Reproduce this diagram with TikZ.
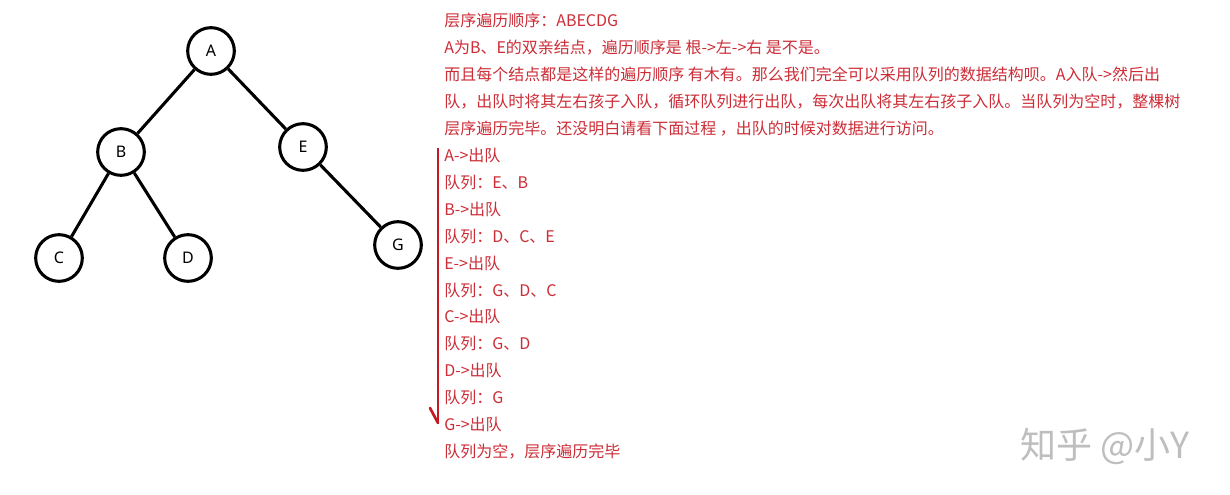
\documentclass[tikz,border=0pt]{standalone}
\usepackage{fontspec}
\setmainfont{Noto Sans}
\newfontfamily\cjk{Noto Sans CJK SC}
\definecolor{txtred}{RGB}{205,45,55}
\definecolor{linered}{RGB}{195,25,35}
\definecolor{wmgray}{RGB}{190,190,190}
\begin{document}
\begin{tikzpicture}[x=0.75pt,y=-0.75pt,
  treenode/.style={circle,draw=black,line width=2.3pt,minimum size=35pt,inner sep=0pt,font=\fontsize{12pt}{14pt}\selectfont},
  treeedge/.style={line width=2.3pt,black},
  txt/.style={anchor=base west,inner sep=0pt,text=txtred,font=\cjk\fontsize{12pt}{14pt}\selectfont},
  wm/.style={anchor=base west,inner sep=0pt,text=wmgray,font=\cjk\fontsize{27pt}{30pt}\selectfont}]
\useasboundingbox[fill=white] (0,0) rectangle (1230,495);
% tree
\node[treenode] (A) at (211,51) {A};
\node[treenode] (B) at (121,152) {B};
\node[treenode] (E) at (303,147) {E};
\node[treenode] (C) at (59,258) {C};
\node[treenode] (D) at (188,258) {D};
\node[treenode] (G) at (398,245) {G};
\draw[treeedge] (A) -- (B);
\draw[treeedge] (A) -- (E);
\draw[treeedge] (B) -- (C);
\draw[treeedge] (B) -- (D);
\draw[treeedge] (E) -- (G);
% text
\node[txt] (t1) at (444,27.0) {层序遍历顺序：ABECDG};
\node[txt] (t2) at (444,53.9) {A为B、E的双亲结点，遍历顺序是 根->左->右 是不是。};
\node[txt] (t3) at (444,80.8) {而且每个结点都是这样的遍历顺序 有木有。那么我们完全可以采用队列的数据结构呗。A入队->然后出};
\node[txt] (t4) at (444,107.7) {队，出队时将其左右孩子入队，循环队列进行出队，每次出队将其左右孩子入队。当队列为空时，整棵树};
\node[txt] (t5) at (444,134.6) {层序遍历完毕。还没明白请看下面过程 ，出队的时候对数据进行访问。};
\node[txt] (t6) at (444,161.5) {A->出队};
\node[txt] (t7) at (444,188.4) {队列：E、B};
\node[txt] (t8) at (444,215.3) {B->出队};
\node[txt] (t9) at (444,242.2) {队列：D、C、E};
\node[txt] (t10) at (444,269.1) {E->出队};
\node[txt] (t11) at (444,296.0) {队列：G、D、C};
\node[txt] (t12) at (444,322.9) {C->出队};
\node[txt] (t13) at (444,349.8) {队列：G、D};
\node[txt] (t14) at (444,376.7) {D->出队};
\node[txt] (t15) at (444,403.6) {队列：G};
\node[txt] (t16) at (444,430.5) {G->出队};
\node[txt] (t17) at (444,457.4) {队列为空，层序遍历完毕};
% red arrow line
\coordinate (lt) at (438,148);
\coordinate (lb) at (438,423);
\coordinate (tk) at (430,408);
\draw[linered,line width=2pt] (lt) -- (lb);
\draw[linered,line width=2pt,line cap=round] (tk) -- (lb);
% watermark
\node[wm] (wm) at (1020,458) {知乎 @小Y};
\end{tikzpicture}
\end{document}
